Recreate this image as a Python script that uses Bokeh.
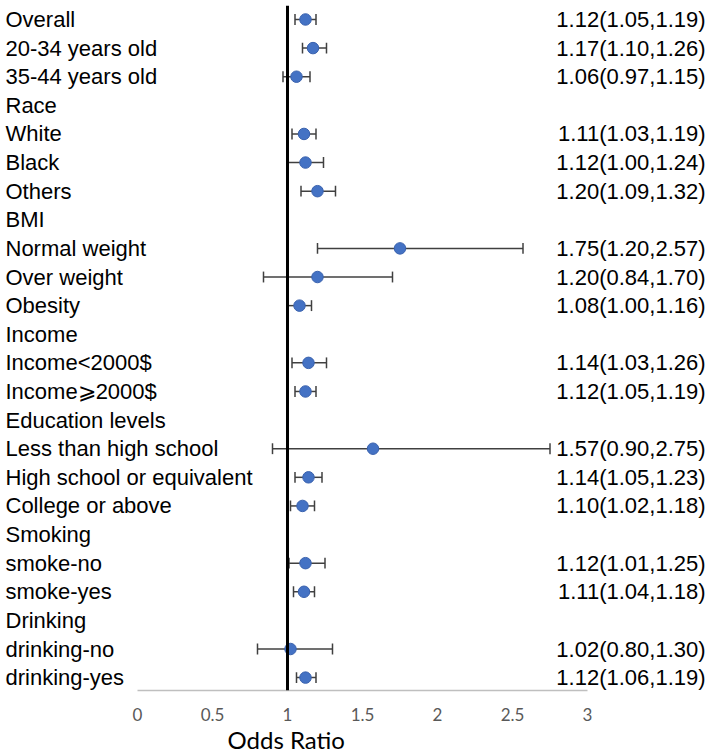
from bokeh.plotting import figure
from bokeh.models import ColumnDataSource, Range1d, Span, Title, FixedTicker
from bokeh.core.properties import value
from bokeh.embed import file_html
from bokeh.resources import INLINE

# ---- data ----
labels = ["Overall", "20-34 years old", "35-44 years old", "Race", "White", "Black", "Others",
          "BMI", "Normal weight", "Over weight", "Obesity", "Income", "Income<2000$",
          "Income\u2a7e2000$", "Education levels", "Less than high school",
          "High school or equivalent", "College or above", "Smoking", "smoke-no",
          "smoke-yes", "Drinking", "drinking-no", "drinking-yes"]
odds = [1.12, 1.17, 1.06, None, 1.11, 1.12, 1.20, None, 1.75, 1.20, 1.08, None, 1.14,
        1.12, None, 1.57, 1.14, 1.10, None, 1.12, 1.11, None, 1.02, 1.12]
ci_low = [1.05, 1.10, 0.97, None, 1.03, 1.00, 1.09, None, 1.20, 0.84, 1.00, None, 1.03,
          1.05, None, 0.90, 1.05, 1.02, None, 1.01, 1.04, None, 0.80, 1.06]
ci_high = [1.19, 1.26, 1.15, None, 1.19, 1.24, 1.32, None, 2.57, 1.70, 1.16, None, 1.26,
           1.19, None, 2.75, 1.23, 1.18, None, 1.25, 1.18, None, 1.30, 1.19]
tick_values = [0, 0.5, 1, 1.5, 2, 2.5, 3]
tick_labels = ["0", "0.5", "1", "1.5", "2", "2.5", "3"]

# ---- sources ----
rows = list(range(len(labels)))
lab_src = ColumnDataSource(dict(y=rows, text=labels))
d_idx = [i for i in rows if odds[i] is not None]
data_src = ColumnDataSource(dict(
    y=d_idx,
    odds=[odds[i] for i in d_idx],
    lo=[ci_low[i] for i in d_idx],
    hi=[ci_high[i] for i in d_idx],
    cap_y0=[i - 0.19 for i in d_idx],
    cap_y1=[i + 0.19 for i in d_idx],
    txt=["%.2f(%.2f,%.2f)" % (odds[i], ci_low[i], ci_high[i]) for i in d_idx],
))

W, H = 709, 752
TOP = 5
p = figure(width=W, height=H, output_backend="svg", toolbar_location=None,
           x_range=Range1d(-0.9133, 3.8133), y_range=Range1d(23.45, -0.4887),
           min_border_left=0, min_border_right=0, min_border_top=TOP,
           min_border_bottom=0)
p.outline_line_color = None
p.grid.visible = False
p.yaxis.visible = False
p.background_fill_color = "white"
p.border_fill_color = "white"

xa = p.xaxis[0]
xa.ticker = FixedTicker(ticks=tick_values)
xa.major_label_overrides = {v: t for v, t in zip(tick_values, tick_labels)}
xa.bounds = (0, 3)
xa.axis_line_color = "#BFBFBF"
xa.axis_line_width = 1.5
xa.major_tick_line_color = None
xa.minor_tick_line_color = None
xa.major_tick_out = 0
xa.major_tick_in = 0
xa.major_label_standoff = 17
xa.major_label_text_font = "Lato"
xa.major_label_text_font_size = "17px"
xa.major_label_text_color = "#595959"

p.add_layout(Title(text="Odds Ratio", align="left", offset=227, standoff=-2,
                   text_font="Lato", text_font_size="24px", text_font_style="normal",
                   text_color="black"), "below")

# reference line at OR = 1
p.add_layout(Span(location=1, dimension="height", line_color="black", line_width=3))

# error bars
p.segment(x0="lo", x1="hi", y0="y", y1="y", source=data_src, line_color="#404040", line_width=1.5)
p.segment(x0="lo", x1="lo", y0="cap_y0", y1="cap_y1", source=data_src, line_color="#404040", line_width=1.5)
p.segment(x0="hi", x1="hi", y0="cap_y0", y1="cap_y1", source=data_src, line_color="#404040", line_width=1.5)
p.scatter(x="odds", y="y", source=data_src, size=11.5, fill_color="#4472C4", line_color="#3A62AE", line_width=1)

# left labels
p.text(x=-0.88, y="y", text="text", source=lab_src, text_align="left", text_baseline="middle",
       text_font=value("Liberation Sans"), text_font_size="22px", text_color="black")
# right labels
p.text(x=3.787, y="y", text="txt", source=data_src, text_align="right", text_baseline="middle",
       text_font=value("Liberation Sans"), text_font_size="22px", text_color="black")

open("out.html", "w").write(file_html(p, INLINE))
